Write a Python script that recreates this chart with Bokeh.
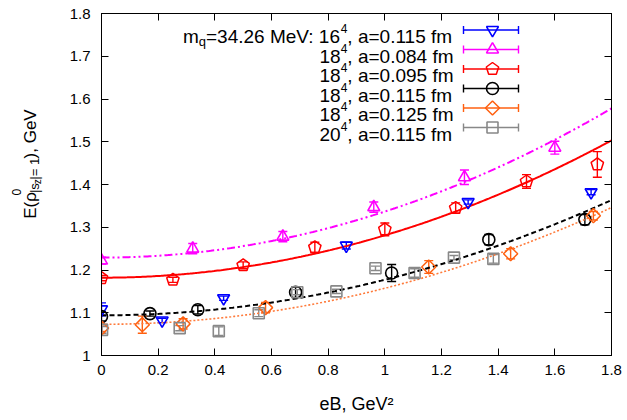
import numpy as np
from bokeh.plotting import figure
from bokeh.layouts import row
from bokeh.models import (ColumnDataSource, Whisker, TeeHead, LinearAxis, FixedTicker,
                          CustomJSTickFormatter, Label, Range1d)
from bokeh.embed import file_html
from bokeh.resources import INLINE

FONT = "Liberation Sans"

# ---------------- data ----------------
x_ticks = [0.0, 0.2, 0.4, 0.6, 0.8, 1.0, 1.2, 1.4, 1.6, 1.8]
y_ticks = [1.0, 1.1, 1.2, 1.3, 1.4, 1.5, 1.6, 1.7, 1.8]

blue_x = [0.0, 0.214, 0.431, 0.864, 1.294, 1.728]
blue_y = [1.108, 1.082, 1.134, 1.257, 1.359, 1.382]
blue_e = [0.015, 0.005, 0.005, 0.008, 0.005, 0.006]

magenta_x = [0.0, 0.322, 0.640, 0.961, 1.281, 1.600]
magenta_y = [1.222, 1.250, 1.278, 1.347, 1.417, 1.486]
magenta_e = [0.008, 0.012, 0.012, 0.012, 0.017, 0.015]

red_x = [0.0, 0.252, 0.500, 0.753, 1.000, 1.250, 1.500, 1.750]
red_y = [1.181, 1.177, 1.211, 1.253, 1.295, 1.345, 1.407, 1.447]
red_e = [0.006, 0.006, 0.008, 0.012, 0.015, 0.012, 0.016, 0.030]

black_x = [0.0, 0.171, 0.340, 0.685, 1.024, 1.367, 1.706]
black_y = [1.091, 1.098, 1.107, 1.148, 1.193, 1.271, 1.318]
black_e = [0.010, 0.006, 0.010, 0.012, 0.020, 0.012, 0.012]

orange_x = [0.0, 0.144, 0.288, 0.579, 1.155, 1.444, 1.736]
orange_y = [1.064, 1.072, 1.074, 1.112, 1.207, 1.238, 1.327]
orange_e = [0.008, 0.020, 0.012, 0.012, 0.015, 0.012, 0.010]

gray_x = [0.002, 0.276, 0.414, 0.555, 0.691, 0.829, 0.967, 1.105, 1.244, 1.383]
gray_y = [1.060, 1.064, 1.057, 1.099, 1.148, 1.150, 1.204, 1.193, 1.229, 1.226]
gray_e = [0.008, 0.006, 0.010, 0.008, 0.006, 0.005, 0.005, 0.010, 0.005, 0.010]

# fit curves E(eB) = a + b*eB^2 (coefficients)
fit_magenta = (1.229, 0.1077)
fit_red = (1.182, 0.0991)
fit_black = (1.094, 0.0832)
fit_orange = (1.073, 0.0843)

legend_rows = [
    [("m", 19, 0), ("q", 13, 5), ("=34.26 MeV: 16", 19, 0), ("4", 12, -8), (", a=0.115 fm", 19, 0)],
    [("18", 19, 0), ("4", 12, -8), (", a=0.084 fm", 19, 0)],
    [("18", 19, 0), ("4", 12, -8), (", a=0.095 fm", 19, 0)],
    [("18", 19, 0), ("4", 12, -8), (", a=0.115 fm", 19, 0)],
    [("18", 19, 0), ("4", 12, -8), (", a=0.125 fm", 19, 0)],
    [("20", 19, 0), ("4", 12, -8), (", a=0.115 fm", 19, 0)],
]

x_label = "eB, GeV²"
# y label pieces: text, font px, baseline x (page px), kind (main / sup / sub)
y_label_pieces = [("E(ρ", 17, 30, "main"), ("0", 12, 16, "sup"), ("|s", 13, 34, "sub"),
                  ("z", 10, 37, "sub"), ("|= 1", 13, 34, "sub"), ("), GeV", 17, 30, "main")]

# ---------------- geometry (page px) ----------------
LEFT_W = 48
FX0, FY0, FW, FH = 101, 13, 510, 342
TOTAL_H = 418
XMIN, XMAX, YMIN, YMAX = 0.0, 1.8, 1.0, 1.8
DX = (XMAX - XMIN) / FW
DY = (YMAX - YMIN) / FH


def sx(px):
    return XMIN + (px - FX0) * DX


def sy(py):
    return YMAX - (py - FY0) * DY


W = {'0': .556, '1': .556, '2': .556, '3': .556, '4': .556, '5': .556, '6': .556,
     '7': .556, '8': .556, '9': .556, ',': .278, ' ': .278, 'a': .556, '=': .584,
     '.': .278, 'f': .278, 'm': .833, 'M': .833, 'e': .556, 'V': .667, ':': .278,
     'q': .556, 'E': .667, '(': .333, ')': .333, 'ρ': .578, '|': .26, 's': .5,
     'z': .5, 'G': .778, 'B': .667}


def tw(t, size):
    return sum(W.get(c, 0.556) for c in t) * size


# ---------------- left strip with the y-axis label ----------------
fl = figure(width=LEFT_W, height=TOTAL_H, x_range=Range1d(0, LEFT_W),
            y_range=Range1d(TOTAL_H, 0), min_border=0, x_axis_type=None, y_axis_type=None,
            output_backend="svg", toolbar_location=None)
fl.grid.visible = False
fl.outline_line_color = None
fl.background_fill_color = "white"
fl.border_fill_color = "white"

K = 1.1
ypos = 251.0
in_sub = False
for t, size, bx, kind in y_label_pieces:
    if kind == "sup":
        at = ypos + 1
    elif kind == "sub":
        if not in_sub:
            ypos -= 2
            in_sub = True
        at = ypos
        ypos -= tw(t, size) * K
    else:
        at = ypos - (2 if in_sub else 0)
        ypos = at - tw(t, size) * K
    fl.add_layout(Label(x=bx, y=at, text=t, text_font=FONT, text_font_size=f"{size}px",
                        text_color="black", angle=np.pi / 2, text_align="left",
                        text_baseline="alphabetic"))

# ---------------- main plot ----------------
p = figure(frame_width=FW, frame_height=FH,
           min_border_left=FX0 - LEFT_W, min_border_right=12, min_border_top=FY0,
           min_border_bottom=TOTAL_H - FY0 - FH,
           x_range=Range1d(XMIN, XMAX), y_range=Range1d(YMIN, YMAX),
           output_backend="svg", toolbar_location=None)
p.grid.visible = False
p.outline_line_color = "black"
p.outline_line_width = 1
p.background_fill_color = "white"
p.border_fill_color = "white"

fmt = CustomJSTickFormatter(code="return (Math.round(tick*10)/10).toString();")
for ax, ticks in ((p.xaxis[0], x_ticks), (p.yaxis[0], y_ticks)):
    ax.ticker = FixedTicker(ticks=ticks)
    ax.formatter = fmt
    ax.major_tick_in = 7
    ax.major_tick_out = 0
    ax.minor_tick_line_color = None
    ax.axis_line_color = "black"
    ax.major_tick_line_color = "black"
    ax.major_label_text_font = FONT
    ax.major_label_text_font_size = "15px"
    ax.major_label_text_color = "black"
p.xaxis.major_label_standoff = 9
p.yaxis.major_label_standoff = 11
p.xaxis.axis_label = x_label
p.xaxis.axis_label_text_font = FONT
p.xaxis.axis_label_text_font_size = "18px"
p.xaxis.axis_label_text_font_style = "normal"
p.xaxis.axis_label_text_color = "black"
p.xaxis.axis_label_standoff = 16

empty = CustomJSTickFormatter(code="return '';")
top = LinearAxis(ticker=FixedTicker(ticks=x_ticks), formatter=empty, major_tick_in=7,
                 major_tick_out=0, minor_tick_line_color=None, major_label_standoff=0,
                 major_label_text_font_size="0px", axis_line_color="black")
right = LinearAxis(ticker=FixedTicker(ticks=y_ticks), formatter=empty, major_tick_in=7,
                   major_tick_out=0, minor_tick_line_color=None, major_label_standoff=0,
                   major_label_text_font_size="0px", axis_line_color="black")
p.add_layout(top, "above")
p.add_layout(right, "right")

# ---------------- fit curves ----------------
xx = np.linspace(XMIN, XMAX, 300)
for (a, b), col, dash, lw in ((fit_magenta, "#ff00ff", "8 3 2 3 2 3", 2),
                              (fit_red, "#ff0000", "solid", 2),
                              (fit_black, "#000000", "5 3", 2),
                              (fit_orange, "#ff7a3a", "2 2", 1.6)):
    p.line(xx, a + b * xx ** 2, line_color=col, line_dash=dash, line_width=lw)


def pentagon_patches(xs, ys, r):
    px, py = [], []
    ang = np.arange(5) * 2 * np.pi / 5
    for x0, y0 in zip(xs, ys):
        px.append(list(x0 + r * np.sin(ang) * DX))
        py.append(list(y0 + r * np.cos(ang) * DY))
    return px, py


def draw_marker(kind, xs, ys, col):
    if kind == "pentagon":
        px, py = pentagon_patches(xs, ys, 6.5)
        p.patches(px, py, fill_color=None, line_color=col, line_width=1.5)
    elif kind == "diamond":
        p.scatter(xs, ys, marker="square", angle=np.pi / 4, size=10, fill_color=None,
                  line_color=col, line_width=1.5)
    else:
        size = {"inverted_triangle": 12, "triangle": 12, "circle": 12, "square": 11}[kind]
        p.scatter(xs, ys, marker=kind, size=size, fill_color=None, line_color=col,
                  line_width=1.6)


series = [
    (blue_x, blue_y, blue_e, "#0000ff", "inverted_triangle"),
    (magenta_x, magenta_y, magenta_e, "#ff00ff", "triangle"),
    (red_x, red_y, red_e, "#ff0000", "pentagon"),
    (black_x, black_y, black_e, "#000000", "circle"),
    (orange_x, orange_y, orange_e, "#ff6010", "diamond"),
    (gray_x, gray_y, gray_e, "#888888", "square"),
]

for xs, ys, es, col, kind in series:
    src = ColumnDataSource(dict(x=xs, lo=[y - e for y, e in zip(ys, es)],
                                hi=[y + e for y, e in zip(ys, es)]))
    p.add_layout(Whisker(source=src, base="x", lower="lo", upper="hi", dimension="height",
                         line_color=col, line_width=1.4,
                         upper_head=TeeHead(size=9, line_color=col, line_width=1.4),
                         lower_head=TeeHead(size=9, line_color=col, line_width=1.4)))
    draw_marker(kind, xs, ys, col)

# ---------------- legend ----------------
TEXT_RIGHT = 453
for i, (rw, (xs, ys, es, col, kind)) in enumerate(zip(legend_rows, series)):
    cy = 29.5 + 19.5 * i
    base = cy + 6.5
    xr = TEXT_RIGHT
    for t, size, dy in reversed(rw):
        xr -= tw(t, size)
        p.add_layout(Label(x=sx(xr), y=sy(base + dy), text=t, text_font=FONT,
                           text_font_size=f"{size}px", text_color="black",
                           text_align="left", text_baseline="alphabetic"))
    yl = sy(cy)
    p.segment(x0=[sx(463)], y0=[yl], x1=[sx(518)], y1=[yl], line_color=col, line_width=1.4)
    p.segment(x0=[sx(463), sx(518)], y0=[sy(cy - 4)] * 2, x1=[sx(463), sx(518)],
              y1=[sy(cy + 4)] * 2, line_color=col, line_width=1.4)
    draw_marker(kind, [sx(492)], [yl], col)

layout = row(fl, p, spacing=0)
open("out.html", "w").write(file_html(layout, INLINE))
